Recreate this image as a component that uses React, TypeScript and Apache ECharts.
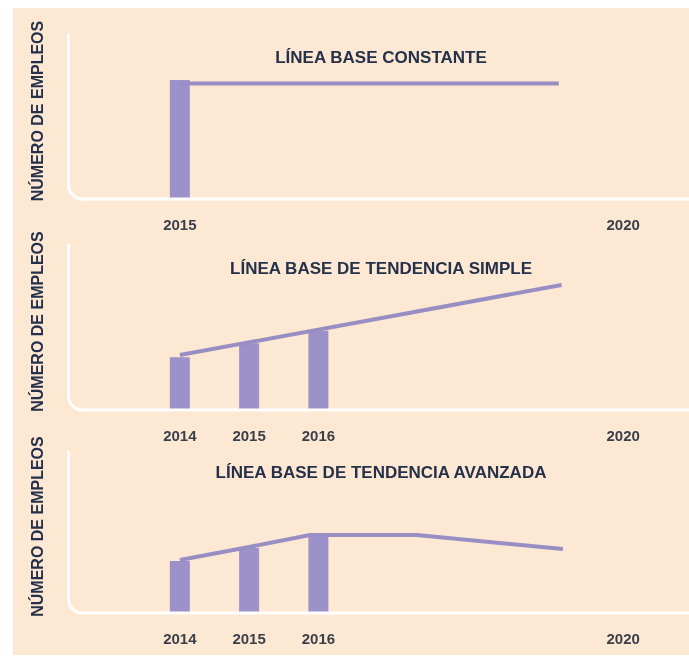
import React, { useEffect, useRef } from "react";
import * as echarts from "echarts";

// ---- data (x in "year slots": first bar = 0, one slot per year of history) ----
const panelTitles = [
  "LÍNEA BASE CONSTANTE",
  "LÍNEA BASE DE TENDENCIA SIMPLE",
  "LÍNEA BASE DE TENDENCIA AVANZADA",
];
const yAxisName = "NÚMERO DE EMPLEOS";

const constantYearLabels = ["2015", "2020"];
const constantYearPositions = [0, 6.4];
const trendYearLabels = ["2014", "2015", "2016", "2020"];
const trendYearPositions = [0, 1, 2, 6.4];

const constantBars = [[0, 72.6]];
const constantLine = [[0, 70.5], [5.47, 70.5]];

const simpleBars = [[0, 32], [1, 40.5], [2, 48]];
const simpleLine = [[0, 33.3], [5.51, 75.8]];

const advancedBars = [[0, 32.3], [1, 40.4], [2, 48.4]];
const advancedLine = [[0, 32.9], [1, 41], [1.88, 48.4], [3.42, 48.4], [5.53, 39.8]];

// ---- styling / layout ----
const W = 689;
const H = 659;
const BG = "#fde9d3";
const PURPLE = "#9c91c8";
const LINE_PURPLE = "#998ec4";
const TITLE_COLOR = "#25304a";
const YEAR_COLOR = "#3b3f4b";
const FONT = "'Liberation Sans', Arial, sans-serif";

const grids = [
  { top: 35, height: 164, titleY: 57 },
  { top: 245, height: 165, titleY: 268 },
  { top: 452, height: 161, titleY: 472 },
];
const GRID_LEFT = 69;
const AXIS_X = 68.5;
const X_MIN = -1.6;
const X_MAX = 7.35;
const R = 14;

const panels = [
  { bars: constantBars, line: constantLine, labels: constantYearLabels, pos: constantYearPositions },
  { bars: simpleBars, line: simpleLine, labels: trendYearLabels, pos: trendYearPositions },
  { bars: advancedBars, line: advancedLine, labels: trendYearLabels, pos: trendYearPositions },
];

export default function App() {
  const ref = useRef<HTMLDivElement>(null);

  useEffect(() => {
    if (!ref.current) return;
    const chart = echarts.init(ref.current, undefined, { renderer: "svg", width: W, height: H });

    const graphics: any[] = [
      {
        type: "rect",
        z: -10,
        shape: { x: 13, y: 8, width: W - 13, height: H - 12 },
        style: { fill: BG },
        silent: true,
      },
    ];
    grids.forEach((g, i) => {
      const bottom = g.top + g.height;
      const stroke = { stroke: "#ffffff", lineWidth: 3, lineCap: "round" };
      graphics.push(
        { type: "line", z: 50, shape: { x1: AXIS_X, y1: g.top, x2: AXIS_X, y2: bottom - R }, style: stroke },
        {
          type: "arc",
          z: 50,
          shape: { cx: AXIS_X + R, cy: bottom - R, r: R, startAngle: Math.PI / 2, endAngle: Math.PI, clockwise: true },
          style: { ...stroke, fill: "none" },
        },
        { type: "line", z: 50, shape: { x1: AXIS_X + R, y1: bottom, x2: W + 5, y2: bottom }, style: stroke },
        {
          type: "text",
          z: 50,
          x: 381,
          y: g.titleY,
          style: {
            text: panelTitles[i],
            fill: TITLE_COLOR,
            font: `bold 17px ${FONT}`,
            textAlign: "center",
            textVerticalAlign: "middle",
          },
        }
      );
    });

    const option: any = {
      animation: false,
      grid: grids.map((g) => ({ left: GRID_LEFT, top: g.top, width: W - GRID_LEFT, height: g.height })),
      xAxis: panels.map((p, i) => ({
        type: "value",
        gridIndex: i,
        min: X_MIN,
        max: X_MAX,
        axisLine: { show: false },
        axisTick: { show: false },
        splitLine: { show: false },
        axisLabel: {
          customValues: p.pos,
          formatter: (v: number) => {
            const idx = p.pos.findIndex((q) => Math.abs(q - v) < 1e-6);
            return idx >= 0 ? p.labels[idx] : "";
          },
          color: YEAR_COLOR,
          fontWeight: "bold",
          fontSize: 15,
          fontFamily: FONT,
          margin: 18,
          hideOverlap: false,
        },
      })),
      yAxis: panels.map((p, i) => ({
        type: "value",
        gridIndex: i,
        min: 0,
        max: 100,
        name: yAxisName,
        nameLocation: "middle",
        nameRotate: 90,
        nameGap: 24,
        nameTextStyle: {
          color: TITLE_COLOR,
          fontWeight: "bold",
          fontSize: 16,
          fontFamily: FONT,
          padding: [0, 0, 0, 12],
        },
        axisLine: { show: false },
        axisTick: { show: false },
        axisLabel: { show: false },
        splitLine: { show: false },
      })),
      series: panels.flatMap((p, i) => [
        {
          type: "bar",
          xAxisIndex: i,
          yAxisIndex: i,
          data: p.bars,
          barWidth: 20,
          itemStyle: { color: PURPLE },
          silent: true,
        },
        {
          type: "line",
          xAxisIndex: i,
          yAxisIndex: i,
          data: p.line,
          symbol: "none",
          lineStyle: { color: LINE_PURPLE, width: 4 },
          silent: true,
        },
      ]),
      graphic: { elements: graphics },
    };
    chart.setOption(option);
    return () => chart.dispose();
  }, []);

  return <div ref={ref} style={{ position: "fixed", left: 0, top: 0, width: W, height: H }} />;
}
